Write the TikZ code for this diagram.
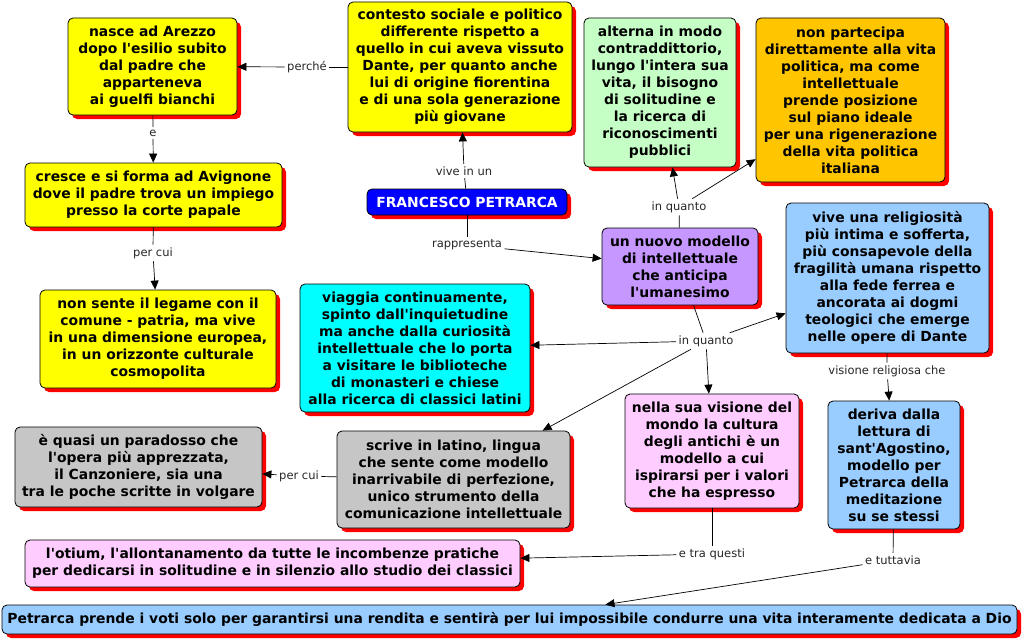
\documentclass[tikz,border=0pt]{standalone}
\usepackage{fontspec}
\setmainfont{DejaVu Sans}[Ligatures=TeXOff]
\usetikzlibrary{arrows.meta,shadows}
\definecolor{cyel}{HTML}{FFFF00}
\definecolor{cgrn}{HTML}{C6FFC6}
\definecolor{corg}{HTML}{FFC600}
\definecolor{cpur}{HTML}{C697FF}
\definecolor{cblu}{HTML}{99CCFF}
\definecolor{ccya}{HTML}{00FFFF}
\definecolor{cgry}{HTML}{C6C6C6}
\definecolor{cpnk}{HTML}{FFCCFF}
\definecolor{cdeep}{HTML}{0000FF}
\tikzset{
  concept/.style={draw=black, line width=0.8pt, rounded corners=5pt, align=center,
    inner sep=0pt, font=\fontsize{13.9}{17}\selectfont\bfseries,
    drop shadow={shadow xshift=4pt, shadow yshift=-4pt, fill=red, opacity=1}},
  lbl/.style={font=\fontsize{11.5}{13}\selectfont, text=black!85, inner sep=2.5pt},
  conn/.style={draw=black, line width=0.7pt},
  arr/.style={conn, -{Triangle[length=9pt,width=8pt]}},
}
\begin{document}
\begin{tikzpicture}[x=1pt,y=-1pt]
\useasboundingbox (0,0) rectangle (1024,642);
% concepts
\node[concept, fill=cyel, minimum width=169pt, minimum height=97pt] (nasce) at (152.5,66.5)
  {nasce ad Arezzo\\dopo l'esilio subito\\dal padre che\\apparteneva\\ai guelfi bianchi};
\node[concept, fill=cyel, minimum width=257pt, minimum height=64pt] (cresce) at (153.5,195)
  {cresce e si forma ad Avignone\\dove il padre trova un impiego\\presso la corte papale};
\node[concept, fill=cyel, minimum width=236pt, minimum height=98pt] (nonsente) at (158,339)
  {non sente il legame con il\\comune - patria, ma vive\\in una dimensione europea,\\in un orizzonte culturale\\cosmopolita};
\node[concept, fill=cyel, minimum width=224pt, minimum height=130pt] (contesto) at (460,67)
  {contesto sociale e politico\\differente rispetto a\\quello in cui aveva vissuto\\Dante, per quanto anche\\lui di origine fiorentina\\e di una sola generazione\\più giovane};
\node[concept, fill=cdeep, text=white, minimum width=200pt, minimum height=26pt] (petrarca) at (467,202)
  {FRANCESCO PETRARCA};
\node[concept, fill=cgrn, minimum width=152pt, minimum height=149pt] (alterna) at (660,92.5)
  {alterna in modo\\contraddittorio,\\lungo l'intera sua\\vita, il bisogno\\di solitudine e\\la ricerca di\\riconoscimenti\\pubblici};
\node[concept, fill=corg, minimum width=189pt, minimum height=164pt] (partecipa) at (850.5,100)
  {non partecipa\\direttamente alla vita\\politica, ma come\\intellettuale\\prende posizione\\sul piano ideale\\per una rigenerazione\\della vita politica\\italiana};
\node[concept, fill=cpur, minimum width=156pt, minimum height=77pt] (nuovo) at (680,266.5)
  {un nuovo modello\\di intellettuale\\che anticipa\\l'umanesimo};
\node[concept, fill=cblu, minimum width=203pt, minimum height=150pt] (vive) at (887.5,278)
  {vive una religiosità\\più intima e sofferta,\\più consapevole della\\fragilità umana rispetto\\alla fede ferrea e\\ancorata ai dogmi\\teologici che emerge\\nelle opere di Dante};
\node[concept, fill=ccya, minimum width=230pt, minimum height=128pt] (viaggia) at (415,348)
  {viaggia continuamente,\\spinto dall'inquietudine\\ma anche dalla curiosità\\intellettuale che lo porta\\a visitare le biblioteche\\di monasteri e chiese\\alla ricerca di classici latini};
\node[concept, fill=cgry, minimum width=233pt, minimum height=97pt] (scrive) at (453.5,479.5)
  {scrive in latino, lingua\\che sente come modello\\inarrivabile di perfezione,\\unico strumento della\\comunicazione intellettuale};
\node[concept, fill=cgry, minimum width=247pt, minimum height=80pt] (quasi) at (138.5,467)
  {è quasi un paradosso che\\l'opera più apprezzata,\\il Canzoniere, sia una\\tra le poche scritte in volgare};
\node[concept, fill=cpnk, minimum width=174pt, minimum height=114pt] (nella) at (712,451)
  {nella sua visione del\\mondo la cultura\\degli antichi è un\\modello a cui\\ispirarsi per i valori\\che ha espresso};
\node[concept, fill=cblu, minimum width=132pt, minimum height=128pt] (deriva) at (894,465)
  {deriva dalla\\lettura di\\sant'Agostino,\\modello per\\Petrarca della\\meditazione\\su se stessi};
\node[concept, fill=cpnk, minimum width=495pt, minimum height=47pt] (otium) at (272.5,563.5)
  {l'otium, l'allontanamento da tutte le incombenze pratiche\\per dedicarsi in solitudine e in silenzio allo studio dei classici};
\node[concept, fill=cblu, minimum width=1015pt, minimum height=29pt] (prende) at (509.5,619.5)
  {Petrarca prende i voti solo per garantirsi una rendita e sentirà per lui impossibile condurre una vita interamente dedicata a Dio};
% labels
\node[lbl] (l1) at (307,67) {perché};
\node[lbl] (l2) at (153,133) {e};
\node[lbl] (l3) at (153,253) {per cui};
\node[lbl] (l4) at (464,171) {vive in un};
\node[lbl] (l5) at (467,245) {rappresenta};
\node[lbl] (l6) at (679,207) {in quanto};
\node[lbl] (l7) at (706,341) {in quanto};
\node[lbl] (l8) at (887,371) {visione religiosa che};
\node[lbl] (l9) at (299,476) {per cui};
\node[lbl] (l10) at (712,554) {e tra questi};
\node[lbl] (l11) at (893,560) {e tuttavia};
% connectors
\draw[conn] (contesto) -- (l1); \draw[arr] (l1) -- (nasce);
\draw[conn] (nasce) -- (l2); \draw[arr] (l2) -- (cresce);
\draw[conn] (cresce) -- (l3); \draw[arr] (l3) -- (nonsente);
\draw[conn] (petrarca) -- (l4); \draw[arr] (l4) -- (contesto);
\draw[conn] (petrarca) -- (l5); \draw[arr] (l5) -- (nuovo);
\draw[conn] (nuovo) -- (l6); \draw[arr] (l6) -- (alterna); \draw[arr] (l6) -- (partecipa);
\draw[conn] (nuovo) -- (l7);
\draw[arr] (l7) -- (viaggia); \draw[arr] (l7) -- (vive); \draw[arr] (l7) -- (nella); \draw[arr] (l7) -- (scrive);
\draw[conn] (vive) -- (l8); \draw[arr] (l8) -- (deriva);
\draw[conn] (scrive) -- (l9); \draw[arr] (l9) -- (quasi);
\draw[conn] (nella) -- (l10); \draw[arr] (l10) -- (otium);
\draw[conn] (deriva) -- (l11); \draw[arr] (l11) -- (prende);
\end{tikzpicture}
\end{document}
